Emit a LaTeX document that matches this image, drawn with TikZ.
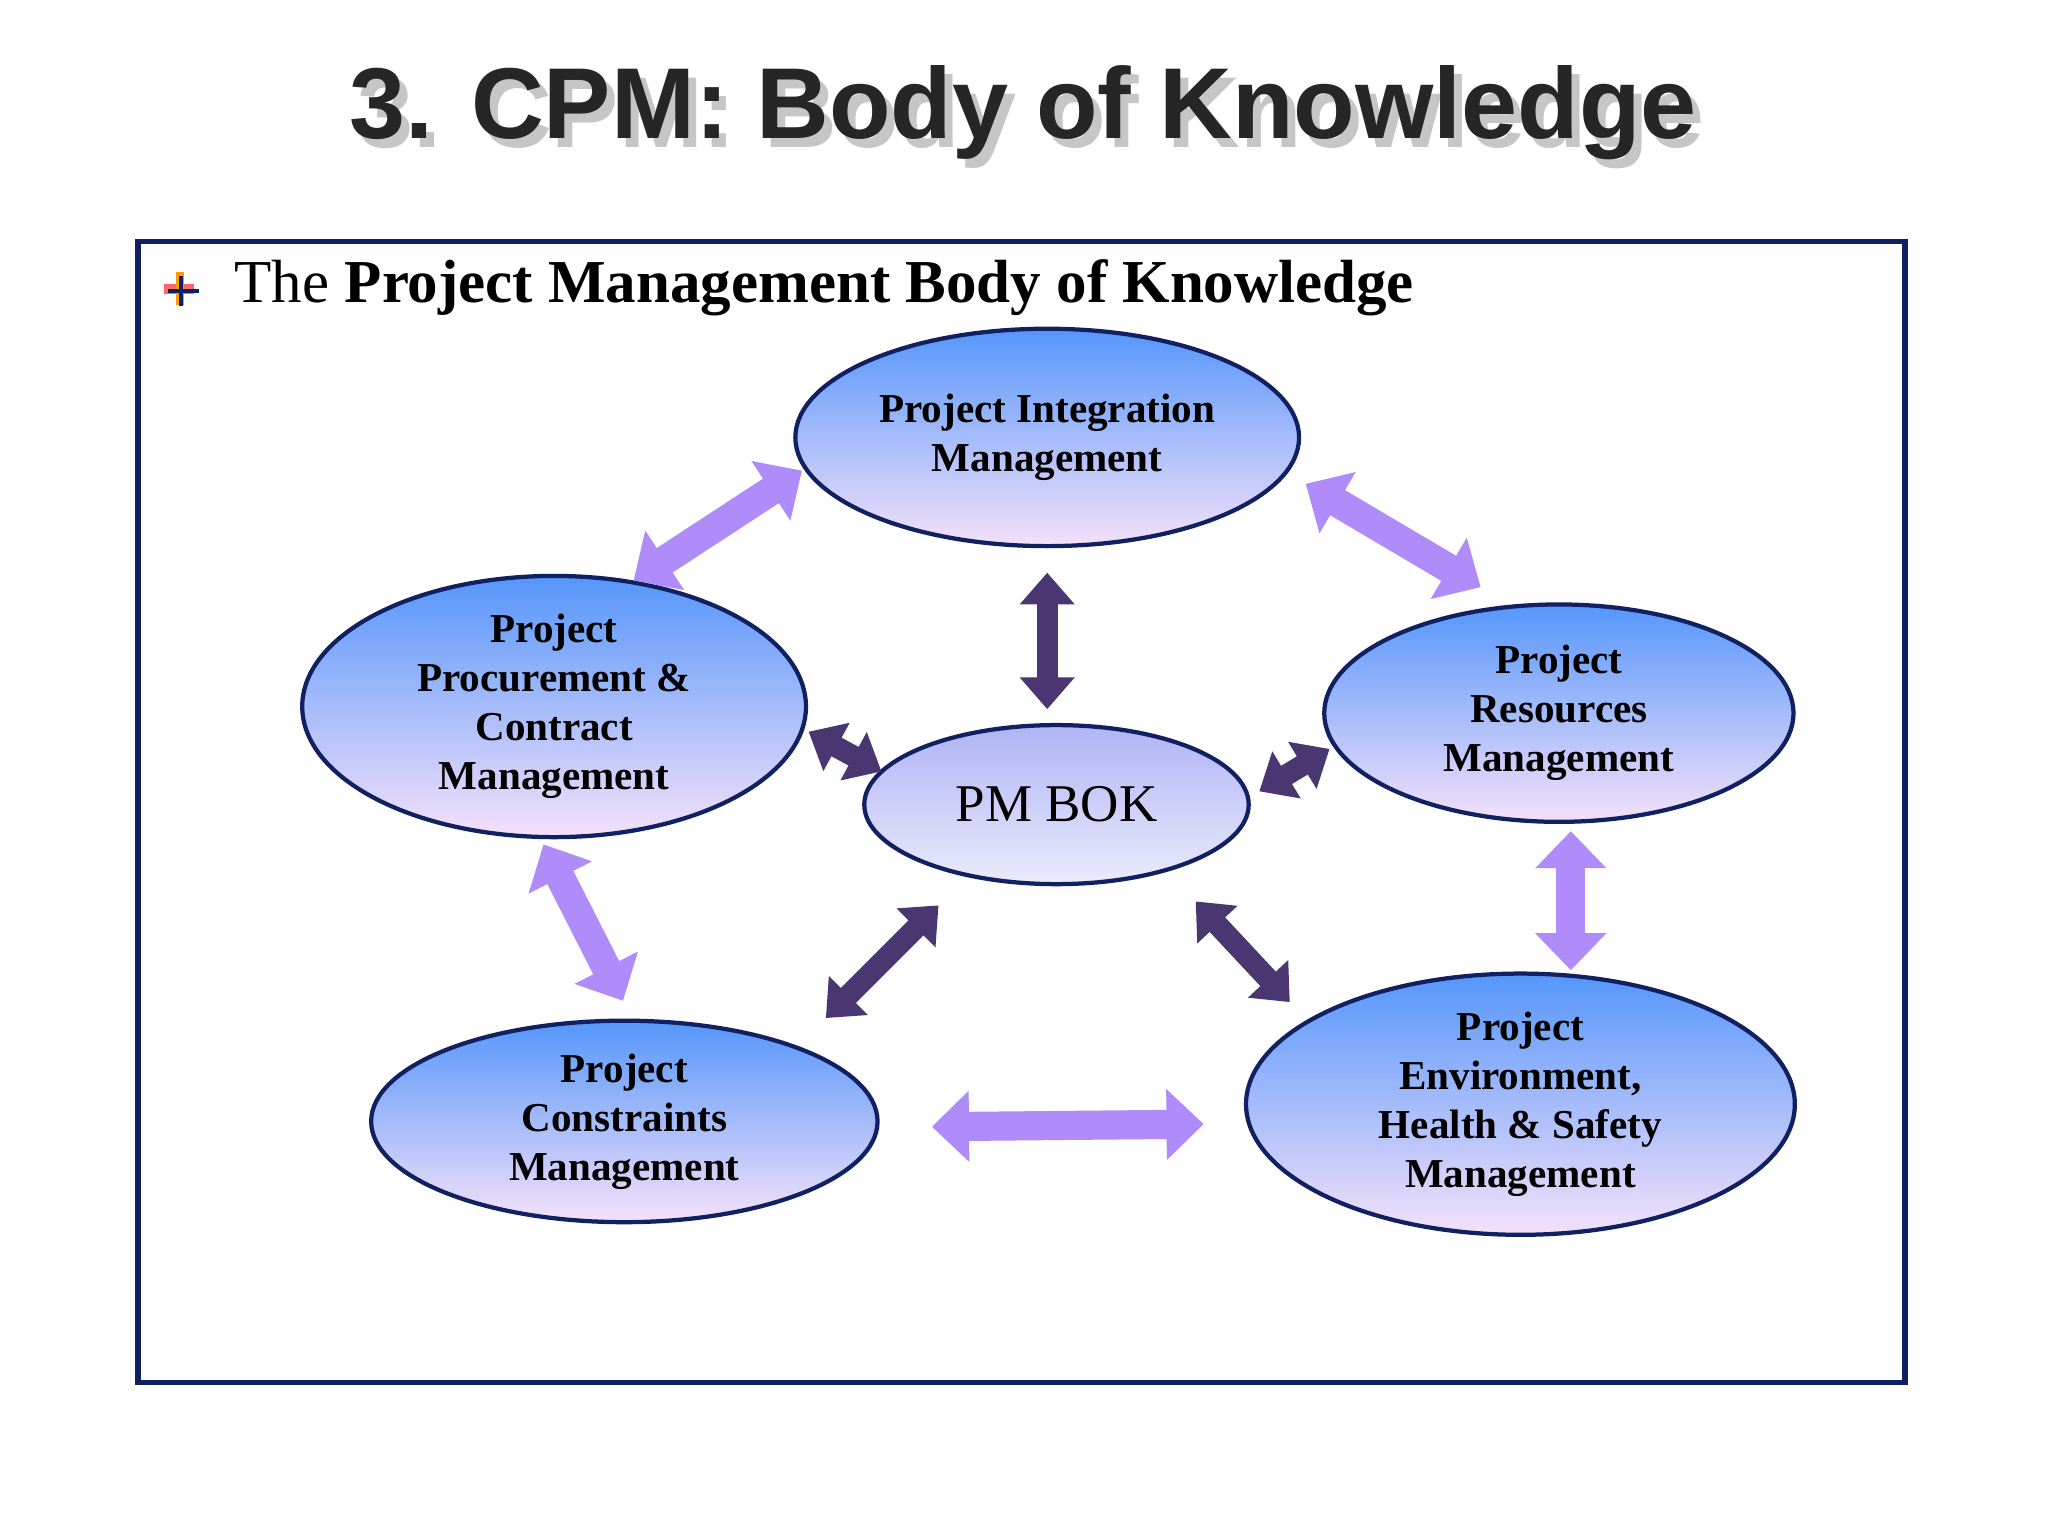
\documentclass[tikz,border=0pt]{standalone}
\usepackage{fontspec}
\setmainfont{Liberation Serif}
\newfontfamily\titlefont{Liberation Sans}
\usetikzlibrary{arrows.meta,shapes.geometric,shadows}
\definecolor{navy}{RGB}{16,32,96}
\definecolor{dpurp}{RGB}{74,54,112}
\definecolor{lpurp}{RGB}{175,140,250}
\definecolor{eltop}{RGB}{85,150,250}
\definecolor{elbot}{RGB}{245,225,250}
\tikzset{
 kel/.style={ellipse,draw=navy,line width=1.6pt,top color=eltop,bottom color=elbot,align=center,font=\fontsize{15.5}{18.5}\selectfont\bfseries,inner sep=0pt},
 darr/.style={draw=dpurp,line width=8pt,{Triangle[width=20pt,length=12pt]}-{Triangle[width=20pt,length=12pt]}},
 larr/.style={draw=lpurp,line width=11pt,{Triangle[width=26pt,length=14pt]}-{Triangle[width=26pt,length=14pt]}}
}
\begin{document}
\begin{tikzpicture}[x=0.5pt,y=-0.5pt]
\useasboundingbox (0,0) rectangle (1545,1159);
\fill[white] (0,0) rectangle (1545,1159);
\node[text=gray!45,font=\titlefont\bfseries\fontsize{38}{42}\selectfont] at (778,92) {3. CPM: Body of Knowledge};
\node (title) [text=black!85,font=\titlefont\bfseries\fontsize{38}{42}\selectfont] at (772,85) {3. CPM: Body of Knowledge};
\draw[navy,line width=2pt] (104,182) rectangle (1437,1043);
\fill[red!60] (124,214) rectangle (146,222);
\fill[orange!80!yellow] (133,205) rectangle (139,230);
\fill[navy] (127,218) rectangle (150,221);
\fill[navy] (135,208) rectangle (138,231);
\node (head) [anchor=west,font=\fontsize{23}{27}\selectfont] at (170,217) {The \textbf{Project Management Body of Knowledge}};
\node (int) [kel,minimum width=190pt,minimum height=82pt] at (790,330) {Project Integration\\Management};
\node (pro) [kel,minimum width=190pt,minimum height=89pt] at (418,533) {Project\\Procurement \&\\Contract\\Management};
\node (res) [kel,minimum width=177pt,minimum height=82pt] at (1176,538) {Project\\Resources\\Management};
\node (pmb) [ellipse,draw=navy,line width=1.6pt,top color={rgb,255:red,175;green,180;blue,245},bottom color={rgb,255:red,235;green,235;blue,252},minimum width=145pt,minimum height=60pt,font=\fontsize{20}{24}\selectfont] at (797,607) {PM BOK};
\node (con) [kel,minimum width=191pt,minimum height=76pt] at (471,846) {Project\\Constraints\\Management};
\node (env) [kel,minimum width=207pt,minimum height=88pt] at (1147,833) {Project\\Environment,\\Health \& Safety\\Management};
\coordinate (a1) at (790,432); \coordinate (a2) at (790,535);
\coordinate (b1) at (610,552); \coordinate (b2) at (665,582);
\coordinate (c1) at (950,597); \coordinate (c2) at (1003,565);
\coordinate (d1) at (708,683); \coordinate (d2) at (623,768);
\coordinate (e1) at (902,680); \coordinate (e2) at (973,756);
\draw[darr] (a1) -- (a2);
\draw[darr] (b1) -- (b2);
\draw[darr] (c1) -- (c2);
\draw[darr] (d1) -- (d2);
\draw[darr] (e1) -- (e2);
\coordinate (f1) at (478,438); \coordinate (f2) at (605,355);
\coordinate (g1) at (985,365); \coordinate (g2) at (1117,443);
\coordinate (h1) at (410,637); \coordinate (h2) at (470,755);
\coordinate (i1) at (1185,627); \coordinate (i2) at (1185,732);
\coordinate (j1) at (703,850); \coordinate (j2) at (908,848);
\draw[larr] (f1) -- (f2);
\draw[larr] (g1) -- (g2);
\draw[larr] (h1) -- (h2);
\draw[larr] (i1) -- (i2);
\draw[larr] (j1) -- (j2);
\end{tikzpicture}
\end{document}
